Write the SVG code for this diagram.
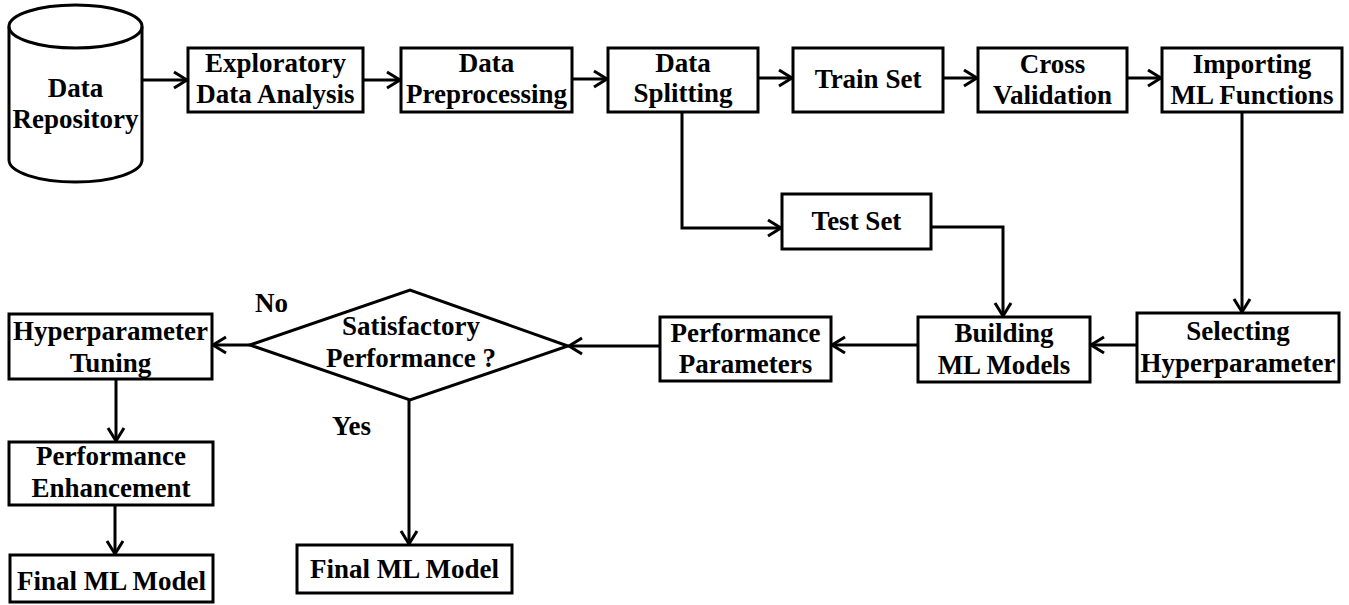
<svg xmlns="http://www.w3.org/2000/svg" width="1349" height="605" viewBox="0 0 1349 605">
<defs>
<marker id="arr" markerUnits="userSpaceOnUse" markerWidth="30" markerHeight="30" refX="15" refY="10" orient="auto">
<path d="M2,2 L15,10 L2,18" fill="none" stroke="#000" stroke-width="3"/>
</marker>
<style>
.box{fill:#fff;stroke:#000;stroke-width:3}
.ln{fill:none;stroke:#000;stroke-width:3}
.ar{fill:none;stroke:#000;stroke-width:3;marker-end:url(#arr)}
.t{font-family:'Liberation Serif','Times New Roman',serif;font-weight:bold;font-size:27px;fill:#000;text-anchor:middle}
.l{text-anchor:start}
</style>
</defs>
<rect width="1349" height="605" fill="#fff"/>
<g id="connectors">
<path class="ar" d="M142,80 L187,80"/>
<path class="ar" d="M363,80 L400,80"/>
<path class="ar" d="M572,79 L607,79"/>
<path class="ar" d="M758,78 L792,78"/>
<path class="ar" d="M943,78 L977,78"/>
<path class="ar" d="M1127,78 L1161,78"/>
<path class="ar" d="M682,112 L682,228 L781,228"/>
<path class="ar" d="M931,227 L1003,227 L1003,316"/>
<path class="ar" d="M1242,112 L1242,312"/>
<path class="ar" d="M1137,345 L1091,345"/>
<path class="ar" d="M918,345 L832,345"/>
<path class="ar" d="M660,346 L569,346"/>
<path class="ar" d="M250,345 L213,345"/>
<path class="ar" d="M409,400 L409,544"/>
<path class="ar" d="M116,379 L116,441"/>
<path class="ar" d="M115,505 L115,554"/>
</g>
<g class="t">
<g id="data-repository">
<path class="box" d="M9,26.5 L9,160 A66.5,22 0 0 0 142,160 L142,26.5 A66.5,21.5 0 0 0 9,26.5 Z"/>
<path class="ln" d="M9,26.5 A66.5,21.5 0 0 0 142,26.5"/>
<text x="75.5" y="97">Data</text>
<text x="75.5" y="128">Repository</text>
</g>
<g id="eda">
<rect class="box" x="188" y="48" width="175" height="64"/>
<text x="275.5" y="72">Exploratory</text>
<text x="275.5" y="103">Data Analysis</text>
</g>
<g id="preprocessing">
<rect class="box" x="401" y="48" width="171" height="64"/>
<text x="486.5" y="72">Data</text>
<text x="486.5" y="103">Preprocessing</text>
</g>
<g id="splitting">
<rect class="box" x="608" y="48" width="150" height="64"/>
<text x="683" y="72">Data</text>
<text x="683" y="102">Splitting</text>
</g>
<g id="train-set">
<rect class="box" x="793" y="48" width="150" height="64"/>
<text x="868" y="88">Train Set</text>
</g>
<g id="cross-validation">
<rect class="box" x="978" y="48" width="149" height="64"/>
<text x="1052.5" y="73">Cross</text>
<text x="1052.5" y="104">Validation</text>
</g>
<g id="importing">
<rect class="box" x="1162" y="48" width="180" height="64"/>
<text x="1252" y="73">Importing</text>
<text x="1252" y="104">ML Functions</text>
</g>
<g id="test-set">
<rect class="box" x="782" y="194" width="149" height="55"/>
<text x="856.5" y="230">Test Set</text>
</g>
<g id="selecting">
<rect class="box" x="1137" y="313" width="202" height="69"/>
<text x="1238" y="340">Selecting</text>
<text x="1238" y="372">Hyperparameter</text>
</g>
<g id="building">
<rect class="box" x="918" y="317" width="172" height="65"/>
<text x="1004" y="342">Building</text>
<text x="1004" y="374">ML Models</text>
</g>
<g id="performance-parameters">
<rect class="box" x="660" y="317" width="171" height="64"/>
<text x="745.5" y="342">Performance</text>
<text x="745.5" y="373">Parameters</text>
</g>
<g id="decision">
<path class="box" d="M250,345 L410,290 L568,346 L410,400 Z"/>
<text x="411" y="335">Satisfactory</text>
<text x="411" y="367">Performance ?</text>
<text class="l" x="255" y="312">No</text>
<text class="l" x="332" y="435">Yes</text>
</g>
<g id="hyperparameter-tuning">
<rect class="box" x="9" y="314" width="203" height="65"/>
<text x="110.5" y="340">Hyperparameter</text>
<text x="110.5" y="372">Tuning</text>
</g>
<g id="performance-enhancement">
<rect class="box" x="9" y="442" width="204" height="63"/>
<text x="111" y="465">Performance</text>
<text x="111" y="497">Enhancement</text>
</g>
<g id="final-model-left">
<rect class="box" x="10" y="555" width="203" height="47"/>
<text x="111.5" y="590">Final ML Model</text>
</g>
<g id="final-model-mid">
<rect class="box" x="297" y="545" width="215" height="48"/>
<text x="404.5" y="578">Final ML Model</text>
</g>
</g>
</svg>
